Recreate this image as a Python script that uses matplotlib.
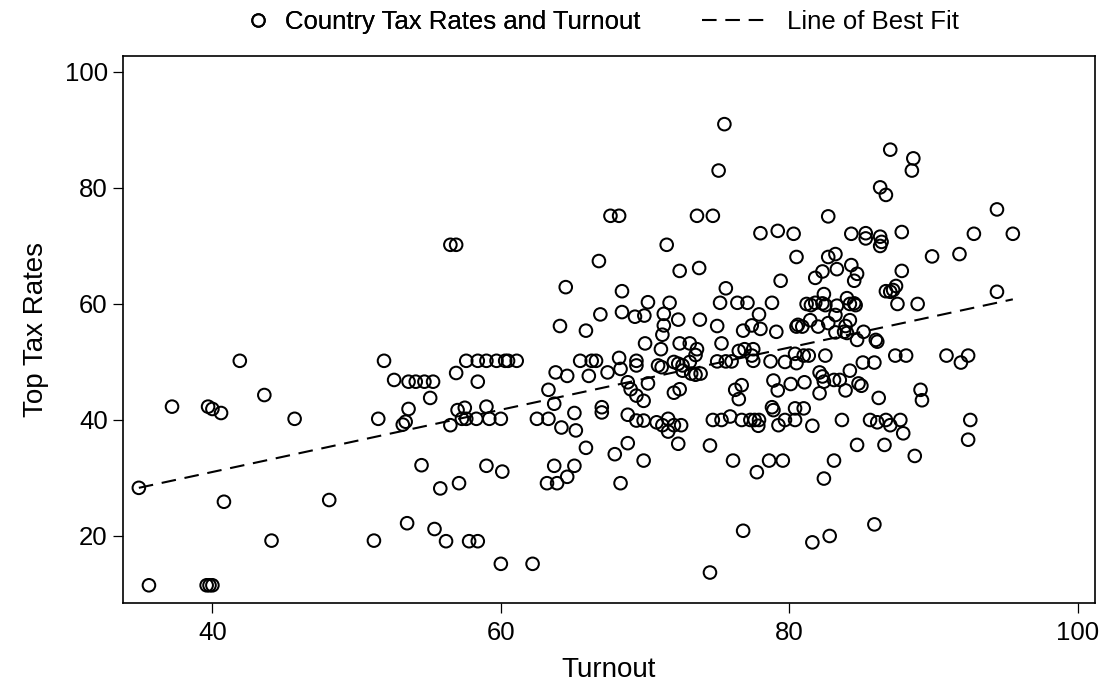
import matplotlib
matplotlib.use("Agg")
import matplotlib.pyplot as plt
from matplotlib.lines import Line2D

plt.rcParams['font.family'] = ['Liberation Sans', 'DejaVu Sans']

# ---- data ----
turnout = [
    41.9, 51.9, 52.6, 53.6, 54.1, 54.7, 55.3, 55.1, 53.6, 53.4, 53.2, 51.5, 37.2,
    39.7, 40.0, 40.6, 43.6, 45.7, 34.9, 40.8, 48.1, 54.5, 55.8, 53.5, 55.4, 44.1,
    51.2, 56.2, 35.6, 39.6, 39.8, 40.0,
    57.6, 58.4, 59.0, 59.7, 60.3, 60.5, 61.1, 56.9, 58.4, 57.0, 57.5, 59.0, 56.5,
    57.3, 57.6, 58.3, 59.2, 60.0, 62.5, 63.3, 63.3, 63.7, 63.8, 64.6, 64.2, 65.2,
    65.1, 65.9, 67.9, 65.5, 66.3, 66.6, 68.2, 68.3, 67.4, 66.1, 67.0, 67.0, 59.0,
    60.1, 57.1, 63.7, 65.1, 64.6, 63.2, 63.9, 68.3, 57.8, 58.4, 60.0, 62.2,
    56.5, 56.9, 67.6, 68.2, 66.8, 64.5, 68.4, 66.9, 68.4, 64.1, 65.9,
    73.6, 74.7, 78.0, 79.2, 71.5, 72.4, 73.75, 79.4, 75.6, 70.2, 71.7, 69.3, 69.95,
    71.3, 71.3, 71.2, 72.3, 73.8, 75.2, 76.4, 77.1, 78.8, 75.0, 77.9, 76.8, 77.4,
    78.0, 79.1, 70.0, 71.1, 72.4, 73.1, 73.6, 75.3, 76.5, 76.9, 77.5, 69.4, 69.4,
    70.9, 71.15, 72.0, 72.3, 72.6, 73.1, 72.6, 73.2, 73.5, 73.85, 73.5, 75.0, 75.6,
    76.0, 77.4, 77.5, 78.7, 79.7, 68.8, 69.0, 69.4, 69.9, 70.2, 72.4, 72.0, 76.25,
    76.7, 76.5, 78.9, 79.2, 78.8,
    68.8, 69.4, 69.9, 70.8, 71.2, 71.6, 71.6, 72.0, 72.5, 74.7, 75.3, 75.9, 76.7,
    77.3, 77.6, 77.9, 77.85, 78.9, 79.25, 68.8, 69.9, 72.3, 74.5, 76.1, 77.75,
    78.6, 79.55, 76.8, 74.5,
    82.7, 80.3, 84.3, 85.3, 85.3, 86.3, 86.4, 86.3, 87.8, 89.9, 80.5, 82.7, 83.2,
    83.3, 84.3, 84.7, 84.5, 82.3, 81.8, 87.8, 87.4, 86.7, 87.0, 87.2, 87.5, 88.9,
    82.4, 81.2, 81.5, 81.8, 82.3, 82.5, 83.3, 84.0, 84.2, 84.5, 84.6, 83.2, 84.2,
    81.45, 80.6, 80.5, 80.9, 82.0, 82.7, 83.9, 83.8, 84.0, 83.2, 85.15, 84.7, 86.0,
    86.1, 87.35, 88.1, 85.1, 85.9, 82.5, 80.4, 80.5, 81.0, 81.35, 84.2, 82.1, 82.3,
    82.4, 83.1, 83.5, 80.1, 81.05, 84.8, 85.0, 82.1, 83.9, 86.2, 89.1, 89.2, 80.4,
    81.0,
    79.7, 80.4, 81.6, 83.65, 85.6, 86.1, 86.7, 87.0, 87.7, 87.9, 84.7, 86.6, 88.7,
    83.1, 82.4, 85.9, 82.8, 81.6,
    94.4, 92.8, 95.5, 91.8, 94.4, 90.9, 91.9, 92.4,
    75.5, 75.1, 87.0, 88.6, 88.5, 86.3, 86.7,
    92.55, 92.4,
]

top_tax = [
    50.2, 50.2, 46.9, 46.6, 46.6, 46.6, 46.6, 43.8, 41.9, 39.7, 39.2, 40.2, 42.3,
    42.3, 41.9, 41.2, 44.3, 40.2, 28.3, 25.9, 26.2, 32.2, 28.2, 22.2, 21.2, 19.2,
    19.2, 19.1, 11.5, 11.5, 11.5, 11.5,
    50.2, 50.2, 50.2, 50.2, 50.2, 50.2, 50.2, 48.1, 46.6, 41.7, 42.1, 42.3, 39.1,
    40.2, 40.2, 40.2, 40.2, 40.2, 40.2, 40.2, 45.2, 42.8, 48.2, 47.6, 38.7, 38.2,
    41.2, 35.2, 34.1, 50.2, 50.2, 50.2, 50.7, 48.8, 48.2, 47.6, 42.2, 41.3, 32.1,
    31.1, 29.1, 32.1, 32.1, 30.2, 29.1, 29.1, 29.1, 19.1, 19.1, 15.2, 15.2,
    70.2, 70.2, 75.2, 75.2, 67.4, 62.9, 62.2, 58.2, 58.6, 56.2, 55.4,
    75.2, 75.2, 72.2, 72.6, 70.2, 65.7, 66.2, 64.0, 62.7, 60.3, 60.2, 57.8, 58.0,
    58.3, 56.3, 54.7, 57.3, 57.3, 60.2, 60.2, 60.2, 60.2, 56.2, 58.2, 55.4, 56.3,
    55.7, 55.2, 53.2, 52.2, 53.2, 53.2, 52.2, 53.2, 51.9, 52.2, 52.2, 50.2, 49.4,
    49.4, 49.1, 50.0, 49.7, 49.4, 50.0, 48.5, 48.0, 47.8, 48.0, 51.2, 50.1, 50.1,
    50.1, 51.1, 50.2, 50.1, 50.0, 46.5, 45.3, 44.2, 43.3, 46.3, 45.3, 44.7, 45.2,
    46.0, 43.6, 46.8, 45.1, 42.2,
    40.9, 39.9, 39.9, 39.6, 39.1, 40.2, 38.0, 39.1, 39.1, 40.0, 40.0, 40.6, 40.0,
    40.0, 40.0, 40.0, 39.0, 41.7, 39.1, 36.0, 33.0, 35.9, 35.6, 33.0, 31.0,
    33.0, 33.0, 20.9, 13.7,
    75.1, 72.1, 72.1, 72.2, 71.3, 71.6, 70.7, 70.0, 72.4, 68.2, 68.1, 68.1, 68.6,
    66.0, 66.7, 65.2, 64.0, 65.6, 64.5, 65.7, 63.1, 62.2, 62.1, 62.4, 60.0, 60.0,
    61.7, 60.0, 59.8, 60.2, 60.1, 59.8, 59.7, 61.0, 60.0, 60.1, 59.8, 58.1, 57.2,
    57.2, 56.4, 56.1, 56.1, 56.1, 56.7, 56.2, 55.2, 55.0, 55.1, 55.2, 53.8, 53.8,
    53.5, 51.1, 51.1, 49.9, 49.9, 51.1, 51.4, 49.8, 51.1, 51.1, 48.5, 48.2, 47.5,
    46.6, 46.9, 46.9, 46.2, 46.5, 46.3, 45.9, 44.6, 45.1, 43.8, 45.2, 43.4, 42.0,
    42.0,
    40.0, 40.0, 39.0, 40.0, 40.0, 39.6, 40.0, 39.1, 40.0, 37.7, 35.7, 35.7, 33.8,
    33.0, 29.9, 22.0, 20.0, 18.9,
    76.3, 72.1, 72.1, 68.6, 62.1, 51.1, 49.9, 51.1,
    91.0, 83.0, 86.6, 85.1, 83.0, 80.1, 78.8,
    40.0, 36.6,
]

fit_x = [34.9, 95.5]
fit_y = [28.3, 60.8]

x_ticks = [40, 60, 80, 100]
y_ticks = [20, 40, 60, 80, 100]

DASH = (0, (7.0, 4.2))

# ---- figure ----
fig = plt.figure(figsize=(11.08, 6.86), dpi=100)
ax = fig.add_axes([0.111, 0.1206, 0.8773, 0.7982])

ax.scatter(turnout, top_tax, s=82, facecolors='none', edgecolors='black',
           linewidths=1.45, zorder=3)
ax.plot(fit_x, fit_y, color='black', linewidth=1.5, linestyle=DASH, zorder=2)

ax.set_xlim(33.8, 101.2)
ax.set_ylim(8.4, 102.8)
ax.set_xticks(x_ticks)
ax.set_yticks(y_ticks)
ax.tick_params(axis='both', direction='out', length=7.5, width=0.9,
               labelsize=18.5, color='black')
ax.tick_params(axis='x', pad=5)
ax.tick_params(axis='y', pad=3.5)
for sp in ax.spines.values():
    sp.set_linewidth(1.2)
    sp.set_color('black')

ax.set_xlabel('Turnout', fontsize=20, labelpad=9)
ax.set_ylabel('Top Tax Rates', fontsize=20, labelpad=11)

# ---- legend (two parts, no frame) ----
h_sc = Line2D([], [], marker='o', linestyle='none', markersize=9.0,
              markerfacecolor='none', markeredgecolor='black',
              markeredgewidth=1.45)
h_ln = Line2D([], [], color='black', linewidth=1.5, linestyle=DASH)
leg1 = fig.legend([h_sc], ['Country Tax Rates and Turnout'], loc='center left',
                  bbox_to_anchor=(246 / 1108, 1 - 22 / 686), frameon=False,
                  fontsize=18.5, handlelength=0.9, handletextpad=0.6,
                  borderpad=0, borderaxespad=0)
leg2 = fig.legend([h_ln], ['Line of Best Fit'], loc='center left',
                  bbox_to_anchor=(702 / 1108, 1 - 22 / 686), frameon=False,
                  fontsize=18.5, handlelength=2.65, handletextpad=0.65,
                  borderpad=0, borderaxespad=0)
fig.add_artist(leg1)

fig.savefig('out.png', dpi=100)
